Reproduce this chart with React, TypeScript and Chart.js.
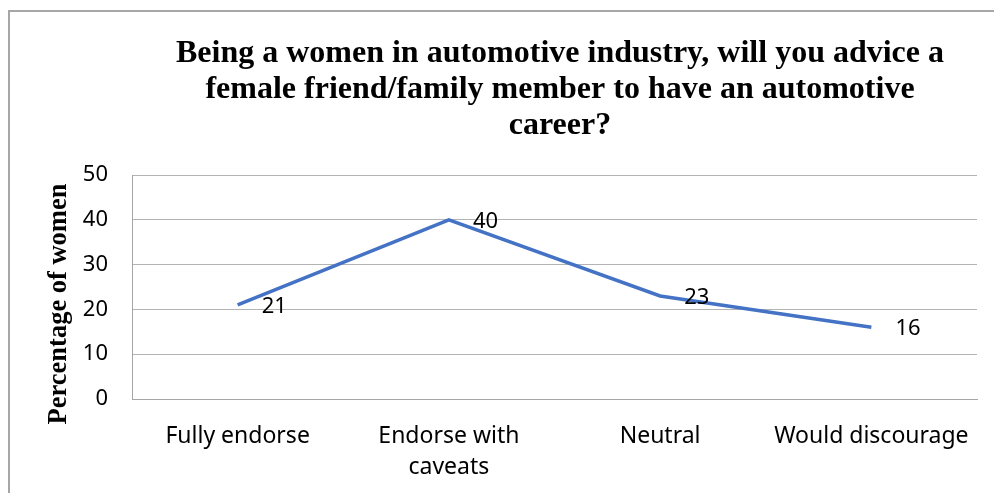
import React, { useEffect, useRef } from "react";
import { Chart, registerables } from "chart.js";

Chart.register(...registerables);

const categories: (string | string[])[] = ["Fully endorse", ["Endorse with", "caveats"], "Neutral", "Would discourage"];
const values: number[] = [21, 40, 23, 16];
const titleLines: string[] = [
  "Being a women in automotive industry, will you advice a",
  "female friend/family member to have an automotive",
  "career?",
];
const yTitle = "Percentage of women";

const SANS = "'Noto Sans', 'Open Sans', sans-serif";
const SERIF = "'Liberation Serif', 'DejaVu Serif', serif";

const decorPlugin = {
  id: "decor",
  beforeDraw(chart: any) {
    const ctx = chart.ctx;
    ctx.save();
    ctx.fillStyle = "#ffffff";
    ctx.fillRect(0, 0, chart.width, chart.height);
    ctx.strokeStyle = "#a6a6a6";
    ctx.lineWidth = 2;
    ctx.strokeRect(9, 11, chart.width + 20, chart.height + 20);
    ctx.restore();
  },
  afterDraw(chart: any) {
    const ctx = chart.ctx;
    ctx.save();
    ctx.fillStyle = "#000000";
    ctx.font = `bold 32px ${SERIF}`;
    ctx.textAlign = "center";
    ctx.textBaseline = "alphabetic";
    const baselines = [62, 98, 134];
    titleLines.forEach((line, i) => ctx.fillText(line, 560, baselines[i]));

    ctx.save();
    ctx.translate(66, 304);
    ctx.rotate(-Math.PI / 2);
    ctx.font = `bold 26.5px ${SERIF}`;
    ctx.fillText(yTitle, 0, 0);
    ctx.restore();

    const meta = chart.getDatasetMeta(0);
    ctx.font = `22px ${SANS}`;
    ctx.textAlign = "left";
    ctx.textBaseline = "middle";
    meta.data.forEach((pt: any, i: number) => {
      ctx.fillText(String(chart.data.datasets[0].data[i]), pt.x + 24, pt.y + 1.5);
    });
    ctx.restore();
  },
};

export default function App() {
  const ref = useRef<HTMLCanvasElement>(null);
  useEffect(() => {
    document.body.style.margin = "0";
    const chart = new Chart(ref.current as HTMLCanvasElement, {
      type: "line",
      data: {
        labels: categories,
        datasets: [
          {
            data: values,
            borderColor: "#4472C4",
            backgroundColor: "#4472C4",
            borderWidth: 3.5,
            pointRadius: 0,
            tension: 0,
          },
        ],
      },
      options: {
        animation: false,
        responsive: false,
        layout: { padding: { top: 175, right: 17, left: 0, bottom: 0 } },
        plugins: { legend: { display: false }, title: { display: false }, tooltip: { enabled: false } },
        scales: {
          x: {
            offset: true,
            grid: { display: false, drawTicks: false },
            border: { display: true, color: "#a6a6a6", width: 1 },
            ticks: {
              color: "#000000",
              font: { family: SANS, size: 23, lineHeight: 1.35 },
              padding: 22,
              maxRotation: 0,
              autoSkip: false,
            },
            afterFit: (s: any) => {
              s.height = 94;
            },
          },
          y: {
            min: 0,
            max: 50,
            ticks: {
              stepSize: 10,
              color: "#000000",
              font: { family: SANS, size: 22 },
              padding: 24,
            },
            grid: { color: "#b3b3b3", lineWidth: 1, drawTicks: false },
            border: { display: true, color: "#a6a6a6", width: 1 },
            afterFit: (s: any) => {
              s.width = 132;
            },
          },
        },
      },
      plugins: [decorPlugin],
    });
    return () => chart.destroy();
  }, []);
  return (
    <div style={{ position: "absolute", left: 0, top: 0 }}>
      <canvas ref={ref} width={994} height={493} style={{ display: "block", width: 994, height: 493 }} />
    </div>
  );
}
